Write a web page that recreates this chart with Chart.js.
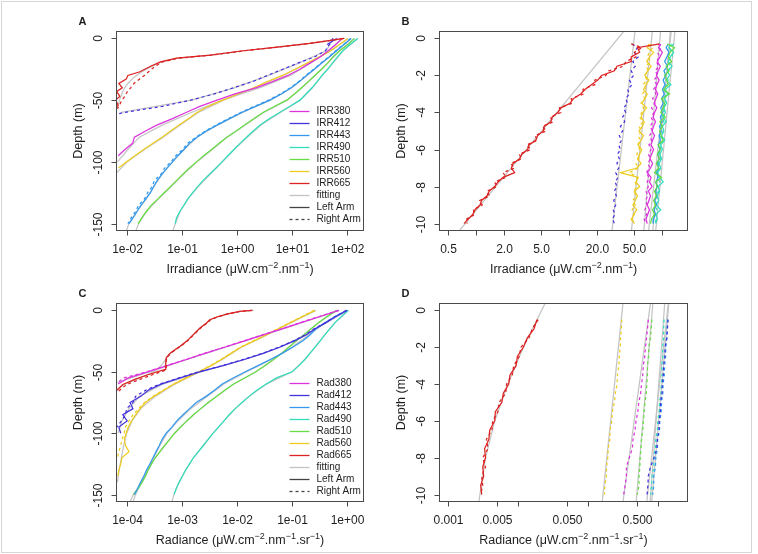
<!DOCTYPE html>
<html><head><meta charset="utf-8">
<script src="https://cdn.jsdelivr.net/npm/chart.js@4"></script>
<style>
html,body{margin:0;padding:0;background:#fff;}
#wrap{position:relative;width:758px;height:554px;overflow:hidden;background:#fff;}
#wrap canvas{position:absolute;left:0;top:0;}
#frame{position:absolute;left:1px;top:1px;width:749px;height:550px;border:1px solid #d6d6d6;}
</style></head><body>
<div id="wrap"><div id="frame"></div>
<canvas id="cA" width="758" height="554"></canvas>
<canvas id="cB" width="758" height="554"></canvas>
<canvas id="cC" width="758" height="554"></canvas>
<canvas id="cD" width="758" height="554"></canvas>
</div>
<script>
// ---------------- DATA ----------------
// Panel A: Irradiance, depth 0..-150
const depthA = [0,-5,-10,-15,-20,-25,-30,-35,-40,-45,-50,-55,-60,-65,-70,-75,-80,-85,-90,-95,-100,-105,-110,-115,-120,-125,-130,-135,-140,-145,-150];
const irrA380 = [83,63,46,33,21.4,14.1,8.5,4.5,2.24,0.93,0.44,0.214,0.12,0.068,0.036,0.022,0.0138,0.0128,0.0093,0.0070];
const irrA412L = [66,44];
const irrA412R = [56,48,41,26,12.9,6.9,3.6,1.95,0.87,0.39,0.145,0.045,0.0089,0.003];
const irrA443L = [120,89,65,48,35,25.7,18.6,13.8,9.8,6.5,4.0,2.19,1.23,0.74,0.45,0.28,0.19,0.138,0.110,0.085,0.068,0.054,0.044,0.036,0.031,0.027,0.0224,0.0182,0.0155,0.0132,0.011];
const irrA443R = [118,87,63,47,34,25,18,13.4,9.4,6.2,3.8,2.1,1.18,0.70,0.43,0.27,0.18,0.128,0.104,0.078,0.064,0.049,0.042,0.032,0.029,0.024,0.021,0.0165,0.0146,0.0122,0.0105];
const irrA490L = [158,115,85,68,55,45,35.5,29,23.4,18.2,14.1,9.3,6.0,3.9,2.7,2.0,1.51,1.15,0.89,0.69,0.54,0.42,0.32,0.245,0.195,0.158,0.129,0.110,0.093,0.081,0.076];
const irrA510L = [138,105,74,56,45,35,26.3,20,15.1,11.2,8.1,4.9,3.0,2.04,1.41,0.98,0.66,0.48,0.35,0.25,0.186,0.138,0.105,0.081,0.063,0.048,0.037,0.028,0.023,0.019,0.0162];
const irrA560L = [105,74,51,32,19,11.5,6.8,3.6,2.04,1.05,0.56,0.30,0.19,0.132,0.091,0.063,0.044,0.030,0.0204,0.0141,0.010,0.0071];
const depthA665 = [0,-2,-4,-7,-10,-13.5,-16,-19,-23,-27,-30,-33,-36.5,-40,-43,-47,-50,-54,-57];
const irrA665L = [90,44,21.4,5.4,1.32,0.33,0.081,0.041,0.026,0.0174,0.0105,0.0098,0.0072,0.0083,0.0066,0.0075,0.0063,0.0070,0.0060];
const irrA665R = [85,46,22,5.8,1.4,0.35,0.088,0.045,0.032,0.025,0.021,0.017,0.0135,0.0118,0.0103,0.0092,0.0082,0.0074,0.0068];
const depthFit = [0,-10,-20,-30,-40,-50,-60,-70,-80,-90,-100,-110,-120,-130,-140,-150,-158];
const fitA380 = [85,47,22,9.5,2.6,0.55,0.15,0.045,0.017,0.0105,0.0068];
const fitA412 = [58,42,13.5,3.8,0.9,0.15,0.008];
const fitA443 = [122,66,35.5,19,10,4.1,1.28,0.45,0.19,0.11,0.068,0.044,0.031,0.0225,0.0155,0.011,0.0095];
const fitA490 = [160,86,56,36,23.8,14.3,6.2,2.8,1.55,0.9,0.55,0.33,0.2,0.13,0.094,0.077,0.066];
const fitA510 = [140,75,45,26.5,15.3,8.3,3.1,1.45,0.67,0.36,0.19,0.107,0.064,0.038,0.023,0.0165,0.014];
const fitA560 = [106,52,19.5,7.0,2.1,0.58,0.2,0.095,0.046,0.021,0.0102,0.0062];
const fitA665 = [92,45,21,5.6,1.35,0.34,0.085,0.043,0.028,0.019,0.015,0.0125,0.0105,0.0092,0.0085,0.0078,0.0074,0.0070,0.0067];

// Panel B: Irradiance, depth 0..-10
const depthB = [-0.3,-0.5,-0.75,-1,-1.25,-1.5,-1.75,-2,-2.25,-2.5,-2.75,-3,-3.25,-3.5,-3.75,-4,-4.25,-4.5,-4.75,-5,-5.25,-5.5,-5.75,-6,-6.25,-6.5,-6.75,-7,-7.25,-7.5,-7.75,-8,-8.25,-8.5,-8.75,-9,-9.25,-9.5,-9.75,-10];
const irrB665L = [95,55,58,47,47,33,31,22.5,20.5,17.5,15,13.4,11.2,10.3,8.2,7.6,6.6,6.4,5.4,5.3,4.6,4.4,3.7,3.6,3.1,2.95,2.5,2.4,2.6,1.95,1.72,1.58,1.38,1.31,1.14,1.1,0.97,0.92,0.82,0.74];
const irrB665R = [47,61,51,53,41,39,27,25,19,19,14.2,14.4,10.6,10.8,7.9,8.2,6.3,6.8,5.2,5.7,4.3,4.6,3.5,3.9,2.9,3.1,2.35,2.6,1.95,2.1,1.58,1.68,1.3,1.4,1.09,1.16,0.93,0.97,0.79,0.8];
const irrB412R = [48,55,51,56,49,52,47,50,45,48,43,45,41,43,39,41,38,40,36,38,35,37,34.5,36,33.5,35,33,34.5,32,34,31.5,33,31,32.5,30.5,32,30,31.5,29.5,31];
const irrB560L = [78,70,82,74,69,77,71,66,73,68,64,70,66,61,69,63,60,65,62,57,64,60,56,61,58,55,60,54,36,56,53,58,51,55,52,49,54,50,48,51];
const irrB560R = [72,80,74,70,76,68,72,65,70,63,68,62,66,60,64,61,58,63,57,61,56,59,55,58,54,57,53,56,45,55,52,54,50,53,49,52,48,51,47,49];
const irrB380L = [98,93,102,96,90,97,92,88,94,89,86,91,87,83,89,84,81,86,82,79,84,80,77,82,78,75,80,76,70,77,74,79,72,76,73,70,74,71,68,70];
const irrB380R = [92,100,90,96,87,94,85,91,83,89,82,87,80,85,78,83,77,81,75,80,74,78,73,77,72,76,71,75,68,73,70,72,68,71,67,70,66,69,65,67];
const irrB510L = [115,138,124,118,128,112,120,108,114,118,104,122,100,108,104,98,110,96,102,95,99,104,92,97,90,95,88,93,84,100,86,90,84,88,82,86,80,84,78,76];
const irrB490L = [128,120,135,124,118,130,116,122,112,126,110,116,108,113,106,110,104,112,102,106,100,108,98,102,96,100,94,98,90,96,104,92,95,90,93,88,98,87,90,86];
const irrB490R = [135,122,128,132,115,124,120,110,118,114,108,112,106,115,102,108,101,106,99,104,97,102,95,100,93,98,92,96,94,91,95,89,92,88,91,87,89,86,88,84];
const irrB443L = [118,112,120,114,108,116,106,111,104,109,102,107,100,104,98,102,97,101,95,99,94,97,92,96,91,94,90,93,88,92,87,90,86,89,84,88,83,86,82,81];
const depthFitShallow = [0.5,-10.5];
const fitB665 = [41,0.63];
const fitB412 = [52,29];
const fitB560 = [80,47];
const fitB380 = [98,64];
const fitB510 = [128,72];
const fitB490 = [140,86];
const fitB443 = [125,80];

// Panel C: Radiance, depth 0..-150
const radC380L = [0.70,0.32,0.145,0.066,0.0295,0.0132,0.0059,0.0026,0.0012,0.00054,0.00024,0.000107,0.00007];
const radC380R = [0.69,0.31,0.14,0.064,0.029,0.013,0.0058,0.0026,0.00118,0.00053,0.00023,0.00009,0.000062];
const radC412L = [0.98,0.62,0.41,0.26,0.178,0.107,0.059,0.030,0.0135,0.0056,0.0021,0.00093,0.00042,0.000245,0.00018,0.000115,0.00013,0.000085,0.000102,0.000072,0.000078];
const radC412R = [0.96,0.60,0.40,0.25,0.172,0.104,0.057,0.029,0.0128,0.0054,0.0020,0.00088,0.00040,0.00022,0.000145,0.00013,0.0001,0.000095,0.00008,0.000066];
const radC443L = [1.0,0.60,0.39,0.27,0.21,0.155,0.102,0.066,0.040,0.024,0.0141,0.0085,0.0054,0.0039,0.00275,0.00182,0.00138,0.00105,0.00081,0.00066,0.00052,0.00044,0.00039,0.00034,0.00030,0.000263,0.000229,0.000204,0.000178,0.000158,0.000138];
const radC490L = [1.05,0.78,0.60,0.48,0.39,0.32,0.26,0.21,0.17,0.132,0.100,0.052,0.034,0.0229,0.0166,0.0123,0.0093,0.0072,0.0058,0.0046,0.0037,0.0030,0.00245,0.0020,0.00162,0.00138,0.00117,0.00102,0.00089,0.00079,0.00072];
const radC510L = [0.64,0.43,0.30,0.22,0.162,0.117,0.087,0.065,0.046,0.032,0.022,0.0138,0.0087,0.0060,0.0043,0.0030,0.0022,0.00162,0.00123,0.00095,0.00074,0.00060,0.00049,0.00040,0.00033,0.00028,0.000245,0.000219,0.00019,0.000162,0.000132];
const radC560L = [0.26,0.155,0.093,0.056,0.034,0.020,0.0117,0.0078,0.0052,0.0034,0.00204,0.0012,0.00072,0.00047,0.00031,0.000219,0.000174,0.000145,0.000123,0.000107,0.000098,0.000091,0.000095,0.00011,0.000082,0.000078,0.000072,0.000069];
const radC560R = [0.25,0.15,0.09,0.055,0.033,0.0195,0.0115,0.0077,0.0051,0.0033,0.002,0.00118,0.0007,0.00046,0.0003,0.00021,0.000165,0.00013,0.00011,0.000095,0.00009,0.000083,0.000078,0.000072,0.000068];
const depthC665 = [0,-0.8,-3,-5.4,-7.6,-10.3,-14.3,-19.7,-25,-29.2,-31.9,-34.6,-38.6,-42.7,-48.1,-49,-52.2,-56.2,-60.3,-67];
const radC665L = [0.019,0.0112,0.0065,0.0043,0.0032,0.0028,0.00214,0.00162,0.00123,0.00093,0.00076,0.00062,0.00052,0.00051,0.00051,0.00042,0.00025,0.00014,0.000085,0.00006];
const radC665R = [0.0185,0.0115,0.0067,0.0044,0.0033,0.0029,0.0022,0.00165,0.00126,0.00095,0.00078,0.00064,0.00053,0.00052,0.00052,0.00048,0.0003,0.000174,0.0001,0.000066];
const fitC380 = [0.72,0.15,0.031,0.0062,0.00125,0.00026,0.000055];
const fitC412 = [1.0,0.42,0.18,0.06,0.014,0.0022,0.00045,0.00017,0.00011,0.000082,0.00007];
const fitC443 = [1.02,0.40,0.20,0.098,0.042,0.0150,0.0058,0.0029,0.00145,0.00085,0.00054,0.0004,0.00031,0.000235,0.000182,0.000145,0.000125];
const fitC490 = [1.05,0.60,0.39,0.26,0.17,0.10,0.034,0.0166,0.0093,0.0058,0.0037,0.00245,0.00162,0.00117,0.00089,0.00072,0.00064];
const fitC510 = [0.64,0.30,0.162,0.087,0.046,0.022,0.0087,0.0043,0.0022,0.00123,0.00074,0.00049,0.00033,0.000245,0.00019,0.000132,0.00011];
const fitC560 = [0.27,0.096,0.035,0.012,0.0054,0.0021,0.00075,0.00033,0.00018,0.000125,0.0001,0.000088,0.00008,0.000073,0.000068];
const fitC665 = [0.02,0.0115,0.0066,0.0044,0.0033,0.0028,0.0021,0.0016,0.00122,0.00094,0.00077,0.00063,0.00053,0.00046,0.00036,0.00034,0.00024,0.00015,0.00009,0.000055];

// Panel D: Radiance, depth 0..-10
const depthD = [-0.5,-1,-1.5,-2,-2.5,-3,-3.5,-4,-4.5,-5,-5.5,-6,-6.5,-7,-7.5,-8,-8.5,-9,-9.5,-10];
const radD665L = [0.0185,0.0168,0.0134,0.0118,0.0097,0.0093,0.0076,0.0073,0.0061,0.0058,0.0047,0.0046,0.0039,0.0038,0.0033,0.0034,0.0031,0.0032,0.0029,0.0030];
const radD665R = [0.0192,0.0158,0.0142,0.0109,0.0103,0.0086,0.0082,0.0068,0.0066,0.0053,0.0051,0.0043,0.0042,0.0035,0.0037,0.0031,0.0034,0.0030,0.0031,0.0029];
const radD560R = [0.300,0.297,0.289,0.286,0.277,0.273,0.260,0.258,0.243,0.236,0.220,0.217,0.205,0.203,0.192,0.190,0.182,0.181,0.173,0.170];
const radD380R = [0.72,0.70,0.68,0.655,0.64,0.61,0.60,0.575,0.56,0.525,0.51,0.48,0.465,0.435,0.425,0.385,0.35,0.35,0.335,0.32];
const radD510R = [0.81,0.79,0.775,0.73,0.725,0.70,0.70,0.685,0.675,0.645,0.63,0.61,0.60,0.575,0.565,0.55,0.545,0.53,0.528,0.50];
const radD412R = [1.38,1.35,1.32,1.25,1.24,1.19,1.18,1.14,1.13,1.08,1.07,1.03,1.02,0.97,0.95,0.87,0.77,0.72,0.71,0.69];
const radD490R = [1.21,1.19,1.19,1.15,1.16,1.12,1.13,1.10,1.09,1.04,1.03,0.98,0.97,0.92,0.91,0.86,0.86,0.81,0.80,0.78];
const radD443R = [1.36,1.33,1.33,1.28,1.27,1.23,1.22,1.17,1.16,1.11,1.10,1.05,1.04,0.98,0.97,0.92,0.91,0.86,0.86,0.83];
const depthFitD665 = [0.5,-2,-4,-6,-8,-10.5];
const fitD665 = [0.025,0.0118,0.0071,0.0046,0.0034,0.0027];
const fitD560 = [0.315,0.157];
const fitD380 = [0.78,0.31];
const fitD510 = [0.84,0.48];
const fitD490 = [1.24,0.76];
const fitD443 = [1.42,0.80];
const fitD412 = [1.40,0.68];

// Axis ticks and labels
const ticksXA = [0.01,0.1,1,10,100];
const labelsXA = ['1e-02','1e-01','1e+00','1e+01','1e+02'];
const ticksXB = [0.5,1,2,5,10,20,50,100];
const labelsXB = ['0.5','','2.0','5.0','','20.0','50.0',''];
const ticksXC = [0.0001,0.001,0.01,0.1,1];
const labelsXC = ['1e-04','1e-03','1e-02','1e-01','1e+00'];
const ticksXD = [0.001,0.005,0.01,0.05,0.1,0.5,1];
const labelsXD = ['0.001','0.005','','0.050','','0.500',''];
const ticksYDeep = [0,-50,-100,-150];
const ticksYShallow = [0,-2,-4,-6,-8,-10];
const namesIrr = ['IRR380','IRR412','IRR443','IRR490','IRR510','IRR560','IRR665'];
const namesRad = ['Rad380','Rad412','Rad443','Rad490','Rad510','Rad560','Rad665'];

// ---------------- STYLE ----------------
const COL = {c380:'#DD33DD', c412:'#4433DD', c443:'#3399EE', c490:'#33DDBB', c510:'#66DD44', c560:'#EECC22', c665:'#DD2222', fit:'#C4C4C4', arm:'#444444'};
const FONT = '"Liberation Sans", Arial, Helvetica, sans-serif';
const LW = 1.25;

function pts(depths, vals){
  const out = [];
  for (let i = 0; i < depths.length; i++) {
    if (vals[i] !== undefined && vals[i] !== null) out.push({x: vals[i], y: depths[i]});
  }
  return out;
}
function ds(depths, vals, color, dashed){
  return {data: pts(depths, vals), borderColor: color, backgroundColor: color, borderWidth: LW,
    borderDash: dashed ? [3,3] : [], showLine: true, pointRadius: 0, fill: false, tension: 0};
}

function richText(ctx, parts, cx, cy, size, rotate){
  ctx.save();
  ctx.translate(cx, cy);
  if (rotate) ctx.rotate(-Math.PI/2);
  const supSize = Math.round(size*0.72);
  let total = 0;
  const widths = parts.map(p => { ctx.font = (p[1] ? supSize : size) + 'px ' + FONT; const w = ctx.measureText(p[0]).width; total += w; return w; });
  let x = -total/2;
  ctx.textAlign = 'left'; ctx.textBaseline = 'alphabetic';
  parts.forEach((p, i) => {
    ctx.font = (p[1] ? supSize : size) + 'px ' + FONT;
    ctx.fillText(p[0], x, p[1] ? size*0.36 - size*0.42 : size*0.36);
    x += widths[i];
  });
  ctx.restore();
}

function axesPlugin(p){
  return { id: 'axes' + p.letter, afterDraw(chart){
    const ctx = chart.ctx, a = chart.chartArea, xs = chart.scales.x, ys = chart.scales.y;
    ctx.save();
    const L = Math.round(a.left) + 0.5, T = Math.round(a.top) + 0.5, R = Math.round(a.right) - 0.5, B = Math.round(a.bottom) - 0.5;
    ctx.strokeStyle = '#4a4a4a'; ctx.lineWidth = 1; ctx.setLineDash([]);
    ctx.strokeRect(L, T, R - L, B - T);
    ctx.fillStyle = '#1e1e1e';
    ctx.font = '12px ' + FONT; ctx.textAlign = 'center'; ctx.textBaseline = 'middle';
    p.xTicks.forEach((v, i) => {
      const px = Math.round(xs.getPixelForValue(v)) + 0.5;
      ctx.beginPath(); ctx.moveTo(px, B); ctx.lineTo(px, B + 5); ctx.stroke();
      if (p.xLabels[i]) ctx.fillText(p.xLabels[i], px, B + 19.5);
    });
    p.yTicks.forEach(v => {
      const py = Math.round(ys.getPixelForValue(v)) + 0.5;
      ctx.beginPath(); ctx.moveTo(L, py); ctx.lineTo(L - 5, py); ctx.stroke();
      ctx.save(); ctx.translate(L - 18, py); ctx.rotate(-Math.PI/2);
      ctx.fillText(String(v), 0, 0); ctx.restore();
    });
    // axis titles
    richText(ctx, [['Depth (m)', 0]], L - 39, (T + B)/2, 12.5, true);
    richText(ctx, p.xTitle, (L + R)/2, B + 38, 12.5, false);
    // panel letter
    ctx.font = 'bold 11px ' + FONT; ctx.textAlign = 'left'; ctx.textBaseline = 'middle';
    ctx.fillText(p.letter, L - 38, T - 10);
    // legend
    if (p.legend) {
      const cols = [COL.c380, COL.c412, COL.c443, COL.c490, COL.c510, COL.c560, COL.c665, COL.fit, COL.arm, COL.arm];
      const names = p.legend.concat(['fitting', 'Left Arm', 'Right Arm']);
      ctx.font = '10px ' + FONT;
      names.forEach((n, i) => {
        const y = Math.round(T + 79 + i*12.05) + 0.5;
        ctx.strokeStyle = cols[i]; ctx.lineWidth = 1.3;
        ctx.setLineDash(i === 9 ? [3,3] : []);
        ctx.beginPath(); ctx.moveTo(R - 74, y); ctx.lineTo(R - 54, y); ctx.stroke();
        ctx.fillStyle = '#1e1e1e';
        ctx.fillText(n, R - 47, y);
      });
    }
    ctx.restore();
  }};
}

function makeChart(id, box, xr, yr, datasets, p){
  return new Chart(document.getElementById(id), {
    type: 'scatter',
    data: {datasets},
    options: {
      responsive: false, animation: false, events: [],
      layout: {padding: {left: box[0], top: box[1], right: 758 - box[2], bottom: 554 - box[3]}},
      plugins: {legend: {display: false}, tooltip: {enabled: false}, title: {display: false}},
      scales: {
        x: {type: 'logarithmic', display: false, min: xr[0], max: xr[1]},
        y: {type: 'linear', display: false, min: yr[0], max: yr[1]}
      }
    },
    plugins: [axesPlugin(p)]
  });
}

const irrTitle = [['Irradiance (\u03BCW.cm', 0], ['\u22122', 1], ['.nm', 0], ['\u22121', 1], [')', 0]];
const radTitle = [['Radiance (\u03BCW.cm', 0], ['\u22122', 1], ['.nm', 0], ['\u22121', 1], ['.sr', 0], ['\u22121', 1], [')', 0]];

// Panel A
makeChart('cA', [116, 31, 364, 231], [0.00639, 206.3], [-156, 6], [
  ds(depthA665, irrA665R, COL.c665, true),
  ds(depthA665, irrA665L, COL.c665, false),
  ds(depthA, irrA412R, COL.c412, true),
  ds(depthA, irrA412L, COL.c412, false),
  ds(depthA, irrA443R, COL.c443, true),
  ds(depthA, irrA443L, COL.c443, false),
  ds(depthA, irrA380, COL.c380, false),
  ds(depthA, irrA560L, COL.c560, false),
  ds(depthA, irrA510L, COL.c510, false),
  ds(depthA, irrA490L, COL.c490, false),
  ds(depthA665, fitA665, COL.fit, false),
  ds(depthFit, fitA380, COL.fit, false),
  ds(depthFit, fitA412, COL.fit, false),
  ds(depthFit, fitA443, COL.fit, false),
  ds(depthFit, fitA490, COL.fit, false),
  ds(depthFit, fitA510, COL.fit, false),
  ds(depthFit, fitA560, COL.fit, false)
], {letter: 'A', xTicks: ticksXA, xLabels: labelsXA, yTicks: ticksYDeep, xTitle: irrTitle, legend: namesIrr});

// Panel B
makeChart('cB', [439, 31, 688, 231], [0.397, 192.8], [-10.4, 0.4], [
  ds(depthB, irrB665R, COL.c665, true),
  ds(depthB, irrB665L, COL.c665, false),
  ds(depthB, irrB412R, COL.c412, true),
  ds(depthB, irrB560R, COL.c560, true),
  ds(depthB, irrB560L, COL.c560, false),
  ds(depthB, irrB380R, COL.c380, true),
  ds(depthB, irrB380L, COL.c380, false),
  ds(depthB, irrB510L, COL.c510, false),
  ds(depthB, irrB443L, COL.c443, false),
  ds(depthB, irrB490R, COL.c490, true),
  ds(depthB, irrB490L, COL.c490, false),
  ds(depthFitShallow, fitB665, COL.fit, false),
  ds(depthFitShallow, fitB412, COL.fit, false),
  ds(depthFitShallow, fitB560, COL.fit, false),
  ds(depthFitShallow, fitB380, COL.fit, false),
  ds(depthFitShallow, fitB510, COL.fit, false),
  ds(depthFitShallow, fitB490, COL.fit, false),
  ds(depthFitShallow, fitB443, COL.fit, false)
], {letter: 'B', xTicks: ticksXB, xLabels: labelsXB, yTicks: ticksYShallow, xTitle: irrTitle, legend: null});

// Panel C
makeChart('cC', [116, 303, 364, 502], [0.000064, 2.007], [-156, 6], [
  ds(depthC665, radC665R, COL.c665, true),
  ds(depthC665, radC665L, COL.c665, false),
  ds(depthA, radC380R, COL.c380, true),
  ds(depthA, radC380L, COL.c380, false),
  ds(depthA, radC412R, COL.c412, true),
  ds(depthA, radC412L, COL.c412, false),
  ds(depthA, radC560R, COL.c560, true),
  ds(depthA, radC560L, COL.c560, false),
  ds(depthA, radC443L, COL.c443, false),
  ds(depthA, radC510L, COL.c510, false),
  ds(depthA, radC490L, COL.c490, false),
  ds(depthC665, fitC665, COL.fit, false),
  ds(depthFit, fitC380, COL.fit, false),
  ds(depthFit, fitC412, COL.fit, false),
  ds(depthFit, fitC443, COL.fit, false),
  ds(depthFit, fitC490, COL.fit, false),
  ds(depthFit, fitC510, COL.fit, false),
  ds(depthFit, fitC560, COL.fit, false)
], {letter: 'C', xTicks: ticksXC, xLabels: labelsXC, yTicks: ticksYDeep, xTitle: radTitle, legend: namesRad});

// Panel D
makeChart('cD', [439, 303, 688, 502], [0.000736, 2.655], [-10.4, 0.4], [
  ds(depthD, radD665R, COL.c665, true),
  ds(depthD, radD665L, COL.c665, false),
  ds(depthD, radD560R, COL.c560, true),
  ds(depthD, radD380R, COL.c380, true),
  ds(depthD, radD510R, COL.c510, true),
  ds(depthD, radD412R, COL.c412, true),
  ds(depthD, radD490R, COL.c490, true),
  ds(depthD, radD443R, COL.c443, true),
  ds(depthFitD665, fitD665, COL.fit, false),
  ds(depthFitShallow, fitD560, COL.fit, false),
  ds(depthFitShallow, fitD380, COL.fit, false),
  ds(depthFitShallow, fitD510, COL.fit, false),
  ds(depthFitShallow, fitD490, COL.fit, false),
  ds(depthFitShallow, fitD443, COL.fit, false),
  ds(depthFitShallow, fitD412, COL.fit, false)
], {letter: 'D', xTicks: ticksXD, xLabels: labelsXD, yTicks: ticksYShallow, xTitle: radTitle, legend: null});
</script>
</body></html>
